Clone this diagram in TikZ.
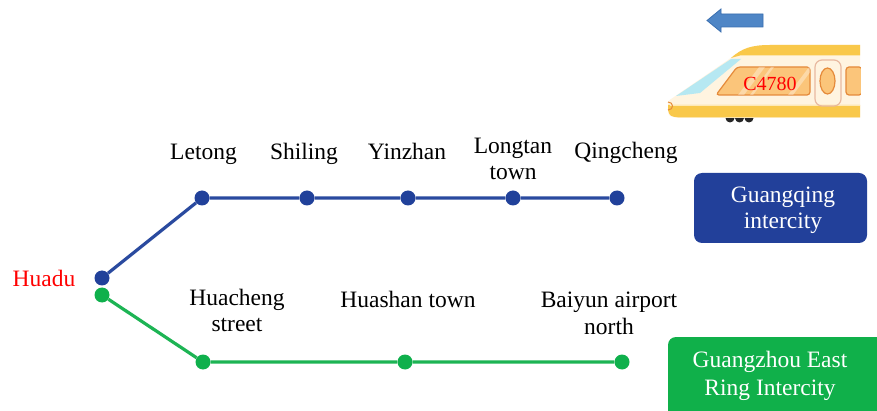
\documentclass[tikz,border=0pt]{standalone}
\usepackage{fontspec}
\setmainfont{Liberation Serif}
\definecolor{lineblue}{HTML}{2A4A9F}
\definecolor{dotblue}{HTML}{21419A}
\definecolor{linegreen}{HTML}{1DB454}
\definecolor{dotgreen}{HTML}{0FB04C}
\definecolor{boxblue}{HTML}{22409A}
\definecolor{boxgreen}{HTML}{10B04A}
\definecolor{arrowblue}{HTML}{4F86C6}
\definecolor{arrowedge}{HTML}{3A6FB0}
\definecolor{traincream}{HTML}{FFF4E0}
\definecolor{trainyellow}{HTML}{F9C84A}
\definecolor{glassblue}{HTML}{B6E8F2}
\definecolor{winorange}{HTML}{FBC57A}
\definecolor{winedge}{HTML}{E58A3A}
\definecolor{dooredge}{HTML}{E8B9A0}
\begin{document}
\begin{tikzpicture}[x=1pt,y=-1pt,
  lbl/.style={font=\fontsize{23.5}{26}\selectfont, anchor=base, align=center, inner sep=0pt},
  keytext/.style={text=white, align=center, font=\fontsize{23.5}{26}\selectfont, anchor=base, inner sep=0pt},
  bline/.style={draw=lineblue, line width=3.2pt},
  gline/.style={draw=linegreen, line width=3.2pt},
  bdot/.style={circle, fill=dotblue, inner sep=0pt, minimum size=15pt},
  gdot/.style={circle, fill=dotgreen, inner sep=0pt, minimum size=15pt},
  winshape/.style={fill=winorange, draw=winedge, line width=1.2pt, rounded corners=3pt}]
\useasboundingbox (0,0) rectangle (877,411);
\clip (0,0) rectangle (877,411);
\fill[white] (0,0) rectangle (877,411);

% ---- train ----
% direction arrow
\filldraw[fill=arrowblue, draw=arrowedge, line width=0.8pt]
  (707,20.5) -- (721,9) -- (721,14) -- (763,14) -- (763,27) -- (721,27) -- (721,32) -- cycle;
% wheels
\foreach \wx in {730,739.5,749} \fill[black!85] (\wx,118) circle (4.5);
% body
\fill[traincream] (668,105) .. controls (668,101) .. (674,97) -- (728,60)
  .. controls (740,50) and (752,45) .. (770,45) -- (860,45) -- (860,118) -- (678,118)
  .. controls (668,116) .. (668,108) -- cycle;
% roof stripe
\fill[trainyellow] (731,58) .. controls (742,48) and (752,45) .. (770,45) -- (860,45)
  -- (860,55.5) -- (740,55.5) -- cycle;
% lower stripe
\fill[trainyellow] (668,105) -- (860,105) -- (860,117.5) -- (680,117.5)
  .. controls (670,116.5) .. (668,110) -- cycle;
\draw[white!60!trainyellow, line width=1pt] (670,105.5) -- (860,105.5);
% windscreen
\fill[glassblue] (676,96) -- (731,59) -- (741,59) -- (700,93) -- cycle;
% nose lamp
\draw[winedge, line width=1pt] (668,102) .. controls (674,102) and (674,110) .. (668,110);
% side window with reflections
\filldraw[winshape] (716,95) -- (737,67) -- (810,67) -- (810,95) -- cycle;
\begin{scope}
  \clip (716,95) -- (737,67) -- (810,67) -- (810,95) -- cycle;
  \fill[white, opacity=0.35] (738,95) -- (759,67) -- (765,67) -- (744,95) -- cycle;
  \fill[white, opacity=0.35] (750,95) -- (771,67) -- (774,67) -- (753,95) -- cycle;
  \fill[white, opacity=0.35] (788,95) -- (809,67) -- (814,67) -- (793,95) -- cycle;
\end{scope}
\node[font=\fontsize{20}{20}\selectfont, text=red, anchor=base, inner sep=0pt] (code) at (770,91) {C4780};
% door
\draw[dooredge, line width=1.2pt, rounded corners=7pt] (815,60) rectangle (841,106);
\filldraw[fill=winorange, draw=winedge, line width=1.2pt] (827.5,81) ellipse (7.5 and 13);
% next window
\filldraw[winshape] (862,67) -- (846,67) -- (846,95) -- (862,95) -- cycle;
\fill[white] (860.5,40) rectangle (877,130);

% ---- station dots ----
\node[bdot] (hb) at (102,278) {};
\node[bdot] (le) at (202,198) {};
\node[bdot] (sh) at (307,198) {};
\node[bdot] (yz) at (408,198) {};
\node[bdot] (lt) at (513,198) {};
\node[bdot] (qc) at (617,198) {};
\node[gdot] (hg) at (102,295) {};
\node[gdot] (hc) at (203,362) {};
\node[gdot] (hs) at (405,362) {};
\node[gdot] (by) at (622,362) {};

% ---- lines ----
\draw[bline] (hb) -- (le) -- (sh) -- (yz) -- (lt) -- (qc);
\draw[gline] (hg) -- (hc) -- (hs) -- (by);

% ---- labels (base = baseline of the last line) ----
\node[lbl, text=red] (t-hd) at (44,287) {Huadu};
\node[lbl] (t-le) at (203.5,160) {Letong};
\node[lbl] (t-sh) at (304,160) {Shiling};
\node[lbl] (t-yz) at (407,160) {Yinzhan};
\node[lbl] (t-lt) at (513,180) {Longtan\\town};
\node[lbl] (t-qc) at (626,158.5) {Qingcheng};
\node[lbl] (t-hc) at (237,331) {Huacheng\\street};
\node[lbl] (t-hs) at (408,308) {Huashan town};
\node[lbl] (t-by) at (609,334) {Baiyun airport\\north};

% ---- legend boxes ----
\fill[boxblue, rounded corners=8pt] (694,173) rectangle (867,243);
\node[keytext] (k-gq) at (783,229) {Guangqing\\intercity};
\fill[boxgreen, rounded corners=8pt] (668,337) rectangle (900,430);
\node[keytext, font=\fontsize{23.5}{28}\selectfont] (k-ge) at (770,395) {Guangzhou East\\Ring Intercity};
\end{tikzpicture}
\end{document}
